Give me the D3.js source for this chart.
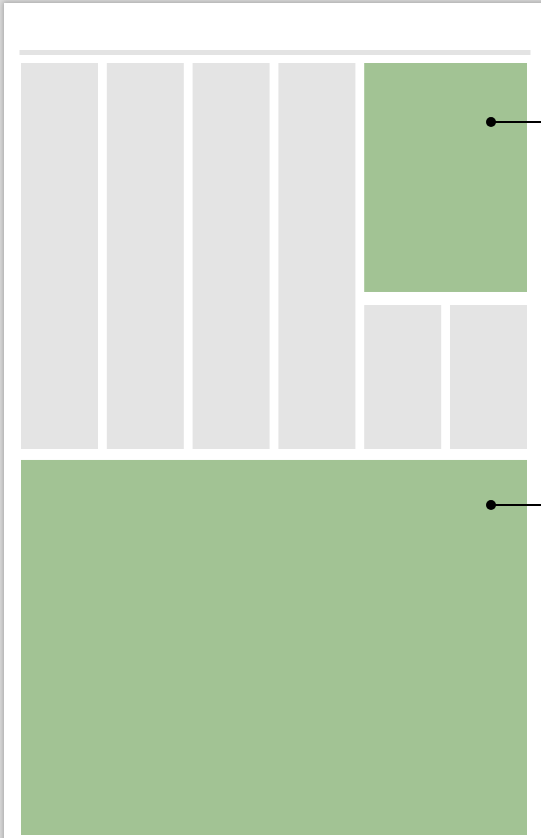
<!DOCTYPE html>
<html>
<head>
<meta charset="utf-8">
<script src="https://cdn.jsdelivr.net/npm/d3@7"></script>
<style>
  html, body { margin: 0; padding: 0; background: #dcdcdc; overflow: hidden; }
  #page {
    position: absolute; left: 4px; top: 3px; width: 560px; height: 860px;
    background: #fff; box-shadow: 0 0 5px 1px rgba(0,0,0,0.25);
  }
  svg { position: absolute; left: 0; top: 0; }
</style>
</head>
<body>
<div id="page"></div>
<svg id="layout" width="541" height="838"></svg>
<script>
window.addEventListener("load", makeLayout);

// six grid columns of the page
const columns = ["c1", "c2", "c3", "c4", "c5", "c6"];

// blocks: first column, last column, top and bottom in layout units (0-100)
const blockNames = ["col1", "col2", "col3", "col4", "feature", "small1", "small2", "lead"];
const blockCol0  = ["c1", "c2", "c3", "c4", "c5", "c5", "c6", "c1"];
const blockCol1  = ["c1", "c2", "c3", "c4", "c6", "c5", "c6", "c6"];
const blockTop   = [0, 0, 0, 0, 0, 31.35, 31.35, 51.42];
const blockBot   = [50, 50, 50, 50, 29.66, 50, 50, 100];
const highlight  = [false, false, false, false, true, false, false, true];

// callouts point at highlighted blocks: x fraction inside block, y in layout units
const calloutBlock = ["feature", "lead"];
const calloutY     = [7.65, 57.25];

function makeLayout() {
    let blocks = blockNames.map((n, i) => ({
        name: n, c0: blockCol0[i], c1: blockCol1[i],
        top: blockTop[i], bot: blockBot[i], hl: highlight[i]
    }));

    let x = d3.scaleBand().domain(columns).range([21, 527]).paddingInner(0.1026);
    let y = d3.scaleLinear().domain([0, 100]).range([63, 835]);

    let svg = d3.select("#layout");

    // rule at the top of the page
    svg.append("rect")
        .attr("x", 19.5).attr("y", 50)
        .attr("width", 511).attr("height", 5)
        .attr("fill", "#e3e3e3");

    svg.selectAll("rect.block")
        .data(blocks)
        .join("rect")
        .attr("class", "block")
        .attr("x", d => x(d.c0))
        .attr("y", d => y(d.top))
        .attr("width", d => x(d.c1) + x.bandwidth() - x(d.c0))
        .attr("height", d => y(d.bot) - y(d.top))
        .attr("fill", d => d.hl ? "#a2c394" : "#e4e4e4");

    let callouts = calloutBlock.map((b, i) => ({ block: b, y: calloutY[i] }));

    let g = svg.selectAll("g.callout")
        .data(callouts)
        .join("g")
        .attr("class", "callout")
        .attr("transform", d => `translate(${x("c6") + 41}, ${y(d.y)})`);

    g.append("line")
        .attr("x1", 0).attr("y1", 0)
        .attr("x2", 60).attr("y2", 0)
        .attr("stroke", "#000").attr("stroke-width", 2);

    g.append("circle")
        .attr("r", 5)
        .attr("fill", "#000");
}
</script>
</body>
</html>
